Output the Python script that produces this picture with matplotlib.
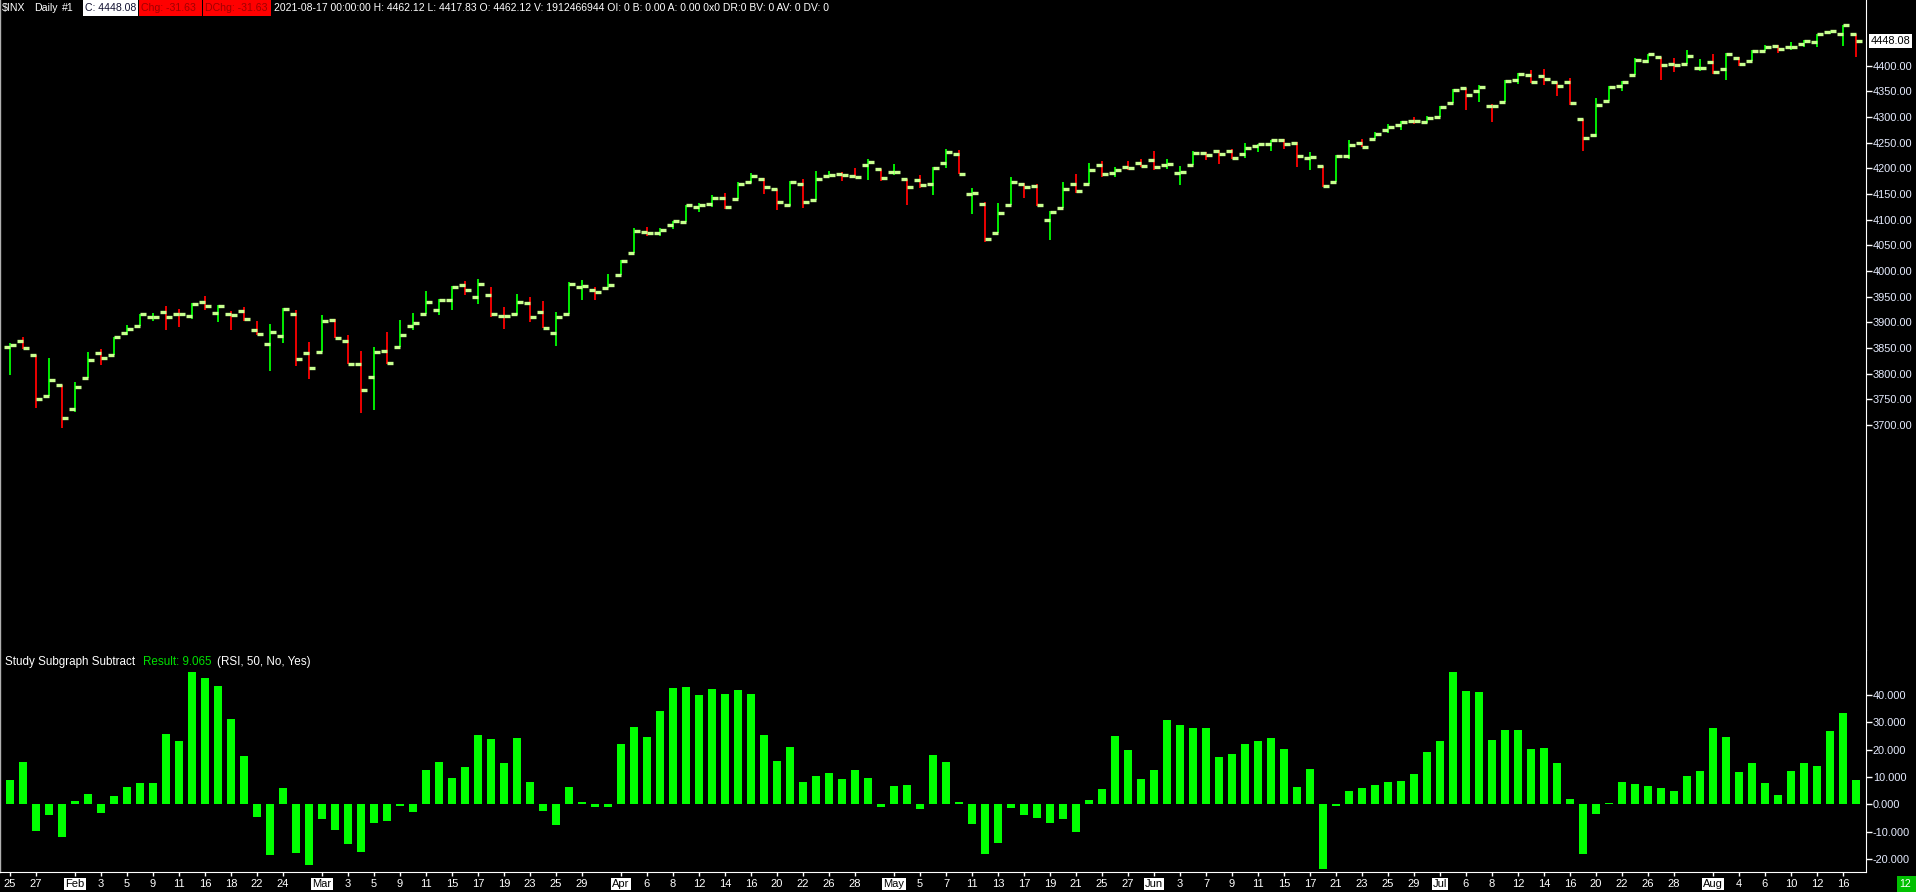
import matplotlib
matplotlib.use("Agg")
import matplotlib.pyplot as plt
from matplotlib.patches import Rectangle
import numpy as np
import pandas as pd

# ---------------- data ----------------
holidays = ["2021-02-15", "2021-04-02", "2021-05-31", "2021-07-05"]
dates = [d for d in pd.bdate_range("2021-01-25", "2021-08-17") if d.strftime("%Y-%m-%d") not in holidays]

opens = [3851.68, 3862.96, 3836.83, 3755.75, 3778.05, 3731.17, 3791.84, 3840.27, 3836.66, 3878.30,
         3892.59, 3910.49, 3920.78, 3916.40, 3911.65, 3939.61, 3918.50, 3915.86, 3921.16, 3885.55,
         3857.07, 3873.71, 3915.80, 3839.66, 3842.51, 3903.64, 3863.99, 3818.53, 3793.58, 3844.39,
         3851.93, 3891.99, 3915.54, 3924.52, 3942.96, 3973.59, 3949.57, 3953.50, 3913.14, 3916.48,
         3937.60, 3919.93, 3879.34, 3917.12, 3969.31, 3963.34, 3967.25, 3992.78, 4034.44, 4075.57,
         4074.29, 4089.95, 4096.11, 4124.71, 4130.10, 4141.58, 4139.76, 4174.14, 4179.80, 4159.18,
         4128.42, 4170.46, 4138.78, 4185.03, 4188.25, 4185.14, 4206.14, 4198.10, 4191.98, 4179.04,
         4177.06, 4169.14, 4210.34, 4228.29, 4150.34, 4130.55, 4074.99, 4129.58, 4169.92, 4165.94,
         4098.45, 4121.97, 4168.61, 4170.16, 4205.94, 4191.59, 4201.94, 4210.77, 4216.52, 4206.82,
         4191.43, 4206.05, 4229.34, 4233.81, 4232.99, 4228.56, 4242.90, 4248.31, 4255.28, 4248.87,
         4220.37, 4204.78, 4173.40, 4224.61, 4249.27, 4256.97, 4274.45, 4284.90, 4293.21, 4290.65,
         4300.73, 4326.60, 4356.46, 4351.01, 4321.07, 4329.38, 4372.41, 4381.07, 4380.11, 4369.02,
         4367.43, 4296.40, 4265.11, 4331.13, 4361.27, 4381.20, 4409.58, 4416.38, 4402.95, 4403.59,
         4395.12, 4406.86, 4392.74, 4415.95, 4408.86, 4429.07, 4437.77, 4435.79, 4442.18, 4446.08,
         4464.84, 4461.65, 4462.12]
highs = [3859.23, 3870.90, 3836.83, 3830.50, 3778.05, 3784.32, 3843.09, 3847.51, 3872.42, 3894.56,
         3915.77, 3918.35, 3931.50, 3925.99, 3937.23, 3950.43, 3933.61, 3921.98, 3930.41, 3902.92,
         3895.98, 3928.65, 3925.02, 3861.08, 3914.50, 3906.41, 3874.47, 3843.67, 3851.69, 3881.06,
         3903.76, 3917.35, 3960.27, 3944.99, 3970.08, 3981.04, 3983.87, 3969.62, 3930.12, 3955.31,
         3949.13, 3942.08, 3919.54, 3978.19, 3981.83, 3968.01, 3994.41, 4020.63, 4083.42, 4086.23,
         4083.13, 4098.19, 4129.48, 4131.76, 4148.00, 4151.69, 4173.49, 4191.31, 4180.81, 4159.18,
         4175.02, 4179.57, 4194.17, 4194.19, 4193.35, 4201.53, 4218.78, 4198.10, 4209.39, 4179.04,
         4187.72, 4202.70, 4238.04, 4236.39, 4162.04, 4134.73, 4131.58, 4183.13, 4171.92, 4169.15,
         4116.93, 4172.80, 4188.72, 4209.52, 4213.42, 4202.61, 4213.38, 4218.36, 4234.12, 4217.37,
         4204.39, 4233.45, 4232.34, 4236.74, 4237.09, 4249.74, 4248.38, 4255.59, 4257.16, 4251.89,
         4232.29, 4204.78, 4226.24, 4255.84, 4256.60, 4271.28, 4286.12, 4292.14, 4300.52, 4302.43,
         4320.66, 4355.43, 4356.46, 4361.88, 4324.80, 4371.60, 4386.68, 4392.37, 4393.68, 4369.02,
         4375.09, 4296.40, 4336.84, 4359.70, 4369.87, 4415.18, 4422.73, 4416.38, 4415.47, 4429.97,
         4412.25, 4422.18, 4423.79, 4416.17, 4429.76, 4440.82, 4439.39, 4445.21, 4449.44, 4461.77,
         4468.37, 4480.26, 4462.12]
lows = [3797.16, 3847.78, 3732.48, 3755.75, 3694.12, 3725.62, 3791.84, 3816.68, 3836.66, 3874.93,
        3892.59, 3902.64, 3884.94, 3890.39, 3905.78, 3923.85, 3900.43, 3885.03, 3903.07, 3874.71,
        3805.59, 3859.60, 3814.04, 3789.54, 3842.51, 3868.57, 3818.86, 3723.34, 3730.19, 3819.25,
        3851.93, 3885.73, 3915.54, 3915.21, 3923.54, 3953.44, 3935.74, 3910.86, 3886.75, 3914.16,
        3901.57, 3889.07, 3853.50, 3917.12, 3943.25, 3944.35, 3966.98, 3992.78, 4034.44, 4068.14,
        4068.31, 4082.54, 4095.51, 4114.82, 4124.43, 4120.87, 4139.76, 4170.75, 4150.47, 4118.38,
        4126.35, 4123.69, 4138.78, 4182.36, 4176.22, 4181.78, 4176.81, 4174.85, 4188.03, 4128.59,
        4160.94, 4147.33, 4201.64, 4188.13, 4111.53, 4056.88, 4074.99, 4129.58, 4142.69, 4125.99,
        4061.41, 4121.97, 4151.72, 4170.16, 4182.52, 4184.11, 4197.78, 4203.57, 4197.59, 4198.27,
        4167.93, 4206.05, 4215.66, 4208.41, 4218.74, 4220.34, 4232.25, 4234.07, 4238.35, 4202.45,
        4196.05, 4164.40, 4173.40, 4217.27, 4241.43, 4256.97, 4267.98, 4274.67, 4286.37, 4287.96,
        4300.73, 4326.60, 4314.37, 4329.79, 4289.52, 4329.38, 4364.03, 4366.92, 4362.36, 4340.70,
        4322.53, 4233.13, 4262.05, 4331.13, 4350.06, 4381.20, 4405.45, 4372.51, 4387.01, 4403.59,
        4389.65, 4384.81, 4373.00, 4400.23, 4408.86, 4429.07, 4424.74, 4430.03, 4436.42, 4435.96,
        4460.82, 4437.66, 4417.83]
closes = [3855.36, 3849.62, 3750.77, 3787.38, 3714.24, 3773.86, 3826.31, 3830.17, 3871.74, 3886.83,
          3915.59, 3911.23, 3909.88, 3916.38, 3934.83, 3932.59, 3931.33, 3913.97, 3906.71, 3876.50,
          3881.37, 3925.43, 3829.34, 3811.15, 3901.82, 3870.29, 3819.72, 3768.47, 3841.94, 3821.35,
          3875.44, 3898.81, 3939.34, 3943.34, 3968.94, 3962.71, 3974.12, 3915.46, 3913.10, 3940.59,
          3910.52, 3889.14, 3909.52, 3974.54, 3971.09, 3958.55, 3972.89, 4019.87, 4077.91, 4073.94,
          4079.95, 4097.17, 4128.80, 4127.99, 4141.59, 4124.66, 4170.42, 4185.47, 4163.26, 4134.94,
          4173.42, 4134.98, 4180.17, 4187.62, 4186.72, 4183.18, 4211.47, 4181.17, 4192.66, 4164.66,
          4167.59, 4201.62, 4232.60, 4188.43, 4152.10, 4063.04, 4112.50, 4173.85, 4163.29, 4127.83,
          4115.68, 4159.12, 4155.86, 4197.05, 4188.13, 4195.99, 4200.88, 4204.11, 4202.04, 4208.12,
          4192.85, 4229.89, 4226.52, 4227.26, 4219.55, 4239.18, 4247.44, 4255.15, 4246.59, 4223.70,
          4221.86, 4166.45, 4224.79, 4246.44, 4241.84, 4266.49, 4280.70, 4290.61, 4291.80, 4297.50,
          4319.94, 4352.34, 4343.54, 4358.13, 4320.82, 4369.55, 4384.63, 4369.21, 4374.30, 4360.03,
          4327.16, 4258.49, 4323.06, 4358.69, 4367.48, 4411.79, 4422.30, 4401.46, 4400.64, 4419.15,
          4395.26, 4387.16, 4423.15, 4402.66, 4429.10, 4436.52, 4432.35, 4436.75, 4447.70, 4460.83,
          4468.00, 4479.71, 4448.08]

rsi_diff = [8.8, 15.4, -9.9, -4.0, -12.0, 1.1, 3.7, -3.3, 2.9, 6.2,
            7.7, 7.7, 25.6, 23.1, 48.5, 46.3, 43.3, 31.2, 17.6, -4.8,
            -18.7, 5.9, -17.9, -22.3, -5.5, -9.5, -14.7, -17.6, -7.0, -6.2,
            -0.7, -2.9, 12.5, 15.4, 9.5, 13.6, 25.3, 23.8, 15.0, 24.2,
            8.1, -2.6, -7.7, 6.2, 0.7, -1.1, -0.9, 22.0, 28.2, 24.5,
            34.2, 42.6, 43.0, 40.0, 42.2, 40.4, 41.9, 40.4, 25.3, 15.8,
            20.9, 8.1, 10.3, 11.4, 9.2, 12.5, 9.5, -1.1, 6.6, 7.0,
            -1.8, 17.9, 15.4, 0.7, -7.3, -18.3, -14.2, -1.5, -4.0, -5.1,
            -7.0, -5.5, -10.3, 1.5, 5.5, 24.9, 19.8, 9.2, 12.5, 30.8,
            28.9, 27.8, 27.8, 17.2, 18.3, 22.0, 23.1, 24.2, 20.1, 6.2,
            12.8, -23.8, -0.7, 4.8, 5.9, 7.0, 8.1, 8.4, 11.0, 19.0,
            23.1, 48.5, 41.5, 41.1, 23.4, 27.1, 27.1, 20.1, 20.5, 15.0,
            1.8, -18.3, -3.7, 0.4, 8.1, 7.3, 6.6, 5.9, 4.8, 10.3,
            12.1, 27.8, 24.5, 11.7, 15.0, 7.7, 3.3, 12.1, 15.0, 13.9,
            26.7, 33.3, 9.065]

tick_dates = ["2021-01-25", "2021-01-27", "2021-02-01", "2021-02-03", "2021-02-05", "2021-02-09",
              "2021-02-11", "2021-02-16", "2021-02-18", "2021-02-22", "2021-02-24", "2021-03-01",
              "2021-03-03", "2021-03-05", "2021-03-09", "2021-03-11", "2021-03-15", "2021-03-17",
              "2021-03-19", "2021-03-23", "2021-03-25", "2021-03-29", "2021-04-01", "2021-04-06",
              "2021-04-08", "2021-04-12", "2021-04-14", "2021-04-16", "2021-04-20", "2021-04-22",
              "2021-04-26", "2021-04-28", "2021-05-03", "2021-05-05", "2021-05-07", "2021-05-11",
              "2021-05-13", "2021-05-17", "2021-05-19", "2021-05-21", "2021-05-25", "2021-05-27",
              "2021-06-01", "2021-06-03", "2021-06-07", "2021-06-09", "2021-06-11", "2021-06-15",
              "2021-06-17", "2021-06-21", "2021-06-23", "2021-06-25", "2021-06-29", "2021-07-01",
              "2021-07-06", "2021-07-08", "2021-07-12", "2021-07-14", "2021-07-16", "2021-07-20",
              "2021-07-22", "2021-07-26", "2021-07-28", "2021-08-02", "2021-08-04", "2021-08-06",
              "2021-08-10", "2021-08-12", "2021-08-16"]
month_starts = ["2021-02-01", "2021-03-01", "2021-04-01", "2021-05-03", "2021-06-01",
                "2021-07-01", "2021-08-02"]

price_ticks = [3700, 3750, 3800, 3850, 3900, 3950, 4000, 4050, 4100, 4150, 4200,
               4250, 4300, 4350, 4400]
hist_ticks = [-20, -10, 0, 10, 20, 30, 40]

header_date = "2021-08-17 00:00:00"

# ---------------- layout ----------------
W, H = 1916, 892
fig = plt.figure(figsize=(W / 100, H / 100), dpi=100, facecolor="black")

def fx(px):
    return px / W

def fy(py):
    return 1 - py / H

AX_R = 1866
PRICE_BOT = 650
HIST_BOT = 872
FONT = "Liberation Sans"

ax = fig.add_axes([0, fy(PRICE_BOT), fx(AX_R), PRICE_BOT / H])
axh = fig.add_axes([0, fy(HIST_BOT), fx(AX_R), (HIST_BOT - PRICE_BOT) / H])

n = len(closes)
x = np.arange(n)
o = np.array(opens); h = np.array(highs); l = np.array(lows); c = np.array(closes)
up = c >= o

for a in (ax, axh):
    a.set_facecolor("black")
    a.set_xlim(-10 / 13, (AX_R - 10) / 13)
    a.spines["top"].set_visible(False)
    a.spines["right"].set_color("white")
    a.spines["left"].set_color("#b0b0b0")
    a.spines["left"].set_linewidth(1.0)
    a.yaxis.tick_right()

# price panel (OHLC bars)
ax.vlines(x[up], l[up], h[up], color="#00ff00", lw=1.3, zorder=2)
ax.vlines(x[~up], l[~up], h[~up], color="#ff0000", lw=1.3, zorder=2)
ax.hlines(o, x - 0.46, x, color="#c8ff90", lw=2.4, zorder=3)
ax.hlines(c, x, x + 0.46, color="#c8ff90", lw=2.4, zorder=3)
ax.set_ylim(3261.7, 4528.0)
ax.spines["bottom"].set_visible(False)
ax.set_xticks([])
ax.set_yticks(price_ticks)
ax.set_yticklabels([f"{v:.2f}" for v in price_ticks])
ax.tick_params(axis="y", colors="white", length=4, width=1, pad=1,
               labelcolor="#e6ecff", labelsize=7.9)
for t in ax.get_yticklabels():
    t.set_fontfamily(FONT)

ax.annotate(f"{closes[-1]:.2f}", xy=(1, closes[-1]), xycoords=("axes fraction", "data"),
            xytext=(5, 0), textcoords="offset pixels", va="center", ha="left",
            color="black", fontsize=7.9, family=FONT,
            bbox=dict(boxstyle="square,pad=0.15", facecolor="white", edgecolor="none"))

# histogram panel
axh.bar(x, rsi_diff, width=0.62, color="#00ff00", zorder=2)
axh.set_ylim(-24.8, 56.5)
axh.spines["bottom"].set_color("white")
axh.set_yticks(hist_ticks)
axh.set_yticklabels([f"{v:.3f}" for v in hist_ticks])
axh.tick_params(axis="y", colors="white", length=4, width=1, pad=1,
                labelcolor="#e6ecff", labelsize=7.9)

date_str = [d.strftime("%Y-%m-%d") for d in dates]
tick_idx = [date_str.index(d) for d in tick_dates]
tick_lbl = []
for d in tick_dates:
    ts = pd.Timestamp(d)
    tick_lbl.append(ts.strftime("%b") if d in month_starts else str(ts.day))
axh.set_xticks(tick_idx)
axh.set_xticklabels(tick_lbl)
axh.tick_params(axis="x", colors="white", length=3, width=1, pad=2,
                labelcolor="white", labelsize=8)
for t in axh.get_xticklabels() + axh.get_yticklabels():
    t.set_fontfamily(FONT)
for t, d in zip(axh.get_xticklabels(), tick_dates):
    if d in month_starts:
        t.set_color("black")
        t.set_bbox(dict(boxstyle="square,pad=0.1", facecolor="white", edgecolor="none"))

# ---------------- header texts ----------------
def rect(x0, y0, x1, y1, color):
    fig.patches.append(Rectangle((fx(x0), fy(y1)), fx(x1 - x0), (y1 - y0) / H,
                                 transform=fig.transFigure, facecolor=color,
                                 edgecolor="none", zorder=5))

def txt(xp, yp, s, color, size=7.6):
    fig.text(fx(xp), fy(yp), s, color=color, fontsize=size, family=FONT,
             va="center", ha="left", zorder=6)

rect(83, 0, 138, 16, "white")
rect(139, 0, 202, 16, "#ff0000")
rect(203, 0, 271, 16, "#ff0000")
txt(2, 8, "$INX", "white")
txt(34, 8, "Daily", "white")
txt(62, 8, "#1", "white")
txt(85, 8, f"C: {closes[-1]:.2f}", "#101030")
chg = closes[-1] - closes[-2]
txt(141, 8, f"Chg: {chg:.2f}", "#a00000")
txt(205, 8, f"DChg: {chg:.2f}", "#a00000")
txt(274, 8, f"{header_date} H: {highs[-1]:.2f} L: {lows[-1]:.2f} O: {opens[-1]:.2f} "
            "V: 1912466944 OI: 0 B: 0.00 A: 0.00 0x0 DR:0 BV: 0 AV: 0 DV: 0", "white", 7.5)

txt(5, 662, "Study Subgraph Subtract", "white", 8.4)
txt(143, 662, f"Result: {rsi_diff[-1]:.3f}", "#00e000", 8.4)
txt(217, 662, "(RSI, 50, No, Yes)", "white", 8.4)

rect(1897, 876, 1916, 892, "#00c000")
txt(1899, 884, "12", "white")

fig.savefig("out.png", dpi=100, facecolor="black")
